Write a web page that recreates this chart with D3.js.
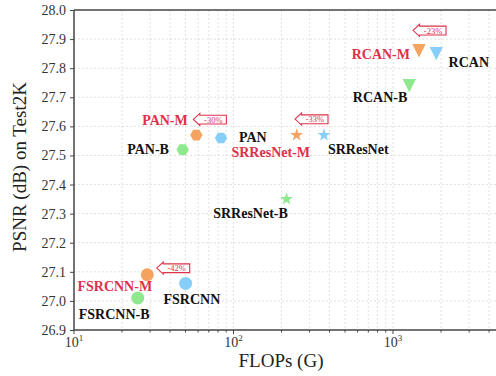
<!DOCTYPE html>
<html>
<head>
<meta charset="utf-8">
<script src="https://cdn.jsdelivr.net/npm/d3@7"></script>
<style>
html,body{margin:0;padding:0;background:#fff;}
svg{display:block;}
text{font-family:"Liberation Serif","Times New Roman",serif;}
</style>
</head>
<body>
<svg id="chart" width="496" height="376"></svg>
<script>
// ---- data ----
const models   = ["FSRCNN-B","FSRCNN-M","FSRCNN","PAN-B","PAN-M","PAN","SRResNet-B","SRResNet-M","SRResNet","RCAN-B","RCAN-M","RCAN"];
const flops    = [25.1, 28.8, 50.1, 48, 58.5, 83.5, 215, 249, 369, 1265, 1455, 1868];
const psnr     = [27.01, 27.09, 27.06, 27.52, 27.57, 27.56, 27.35, 27.57, 27.57, 27.74, 27.86, 27.85];
const variant  = ["B","M","O","B","M","O","B","M","O","B","M","O"];
const shapes   = ["circle","circle","circle","hex","hex","hex","star","star","star","tri","tri","tri"];
const yTicks   = [26.9,27.0,27.1,27.2,27.3,27.4,27.5,27.6,27.7,27.8,27.9,28.0];
const xMajor   = [10, 100, 1000];
const xMajorExp= ["1","2","3"];
// annotation arrows: tip position (data coords) and text
const annText  = ["-42%","-30%","-33%","-23%"];
const annFlops = [33, 56, 243, 1335];
const annPsnr  = [27.113, 27.624, 27.625, 27.93];

// ---- layout / style ----
const colors = {B:"#8ee88e", M:"#f4a460", O:"#87cefa"};
const red = "#e0304a";
const labelOff = {
  "FSRCNN-B":[-59,16,"start"], "FSRCNN-M":[-32.5,11.7,"middle"], "FSRCNN":[6.3,16,"middle"],
  "PAN-B":[-13.7,0,"end"], "PAN-M":[-8.6,-15.3,"end"], "PAN":[18,-0.7,"start"],
  "SRResNet-B":[1.3,14.4,"end"], "SRResNet-M":[13.3,17.4,"end"], "SRResNet":[4,13.7,"start"],
  "RCAN-B":[-2,12,"end"], "RCAN-M":[-9,3,"end"], "RCAN":[12.3,8.6,"start"]
};

const svg = d3.select("#chart");
const L = 74, T = 10, B = 330, R = 504.5;
const x = d3.scaleLog().domain([10, 5000]).range([L, R]);
const y = d3.scaleLinear().domain([26.9, 28.0]).range([B, T]);

// grid
const minor = [];
for (let d = 10; d <= 1000; d *= 10) for (let k = 1; k <= 9; k++) if (d*k <= 5000) minor.push(d*k);
minor.push(2000,3000,4000,5000);
const gx = [...new Set(minor)].filter(v => v > 10 && v < 5000);
svg.append("g").selectAll("line").data(gx).join("line")
  .attr("x1", d => x(d)).attr("x2", d => x(d)).attr("y1", T).attr("y2", B)
  .attr("stroke", "#d9d9d9").attr("stroke-width", 0.8).attr("stroke-dasharray", "2,2");
svg.append("g").selectAll("line").data(yTicks.filter(v => v > 26.9 && v < 28.0)).join("line")
  .attr("x1", L).attr("x2", R).attr("y1", d => y(d)).attr("y2", d => y(d))
  .attr("stroke", "#d9d9d9").attr("stroke-width", 0.8).attr("stroke-dasharray", "2,2");

// axes
const axisColor = "#444";
const yAxis = svg.append("g").attr("transform", `translate(${L},0)`)
  .call(d3.axisLeft(y).tickValues(yTicks).tickFormat(d3.format(".1f")).tickSize(4).tickPadding(4));
yAxis.select(".domain").remove();
yAxis.selectAll("line").attr("stroke", axisColor).attr("stroke-width", 1);
yAxis.selectAll("text").attr("font-size", 14).attr("fill", "#333")
  .attr("font-family", '"Liberation Serif","Times New Roman",serif');

const xAxisG = svg.append("g").attr("transform", `translate(0,${B})`);
xAxisG.selectAll("line.minor").data(gx.filter(v => !xMajor.includes(v))).join("line")
  .attr("x1", d => x(d)).attr("x2", d => x(d)).attr("y1", 0).attr("y2", 2.5)
  .attr("stroke", axisColor).attr("stroke-width", 1);
xAxisG.selectAll("line.major").data(xMajor).join("line")
  .attr("x1", d => x(d)).attr("x2", d => x(d)).attr("y1", 0).attr("y2", 4)
  .attr("stroke", axisColor).attr("stroke-width", 1);
const xl = xAxisG.selectAll("text").data(xMajor).join("text")
  .attr("x", d => x(d)).attr("y", 17).attr("text-anchor", "middle")
  .attr("font-size", 14).attr("fill", "#333");
xl.append("tspan").text("10");
xl.append("tspan").attr("font-size", 9).attr("dy", -6).text((d, i) => xMajorExp[i]);

// spines
svg.append("line").attr("x1", L).attr("x2", L).attr("y1", T).attr("y2", B).attr("stroke", axisColor).attr("stroke-width", 1.5);
svg.append("line").attr("x1", L).attr("x2", 496).attr("y1", B).attr("y2", B).attr("stroke", axisColor).attr("stroke-width", 1.5);
svg.append("line").attr("x1", L).attr("x2", 496).attr("y1", T).attr("y2", T).attr("stroke", axisColor).attr("stroke-width", 1.5);

// axis titles
svg.append("text").attr("x", 281).attr("y", 367).attr("text-anchor", "middle")
  .attr("font-size", 19).attr("fill", "#222").text("FLOPs (G)");
svg.append("text").attr("transform", "translate(26,167) rotate(-90)").attr("text-anchor", "middle")
  .attr("font-size", 19).attr("fill", "#222").text("PSNR (dB) on Test2K");

// markers
function markerPath(shape) {
  const p = d3.path();
  if (shape === "circle") { p.arc(0, 0, 6.5, 0, 2*Math.PI); p.closePath(); return p.toString(); }
  if (shape === "hex") {
    for (let i = 0; i < 6; i++) {
      const a = i * Math.PI / 3;
      const px = 6.2 * Math.cos(a), py = 6.2 * Math.sin(a);
      i ? p.lineTo(px, py) : p.moveTo(px, py);
    }
    p.closePath(); return p.toString();
  }
  if (shape === "tri") { p.moveTo(-6.7,-6.7); p.lineTo(6.7,-6.7); p.lineTo(0,6.7); p.closePath(); return p.toString(); }
  return d3.symbol(d3.symbolStar, 52)();
}
svg.append("g").selectAll("path").data(models).join("path")
  .attr("d", (d, i) => markerPath(shapes[i]))
  .attr("transform", (d, i) => `translate(${x(flops[i])},${y(psnr[i])})`)
  .attr("fill", (d, i) => colors[variant[i]]);

// labels
svg.append("g").selectAll("text").data(models).join("text")
  .attr("x", (d, i) => x(flops[i]) + labelOff[d][0])
  .attr("y", (d, i) => y(psnr[i]) + labelOff[d][1] + 4.8)
  .attr("text-anchor", d => labelOff[d][2])
  .attr("font-size", 14).attr("font-weight", "bold")
  .attr("fill", (d, i) => variant[i] === "M" ? red : "#111")
  .text(d => d);

// annotation arrows
const ann = svg.append("g").selectAll("g").data(annText).join("g")
  .attr("transform", (d, i) => `translate(${x(annFlops[i])},${y(annPsnr[i])})`);
ann.append("path")
  .attr("d", "M0,0 L6.5,-6 L6.5,-4.2 L33,-4.2 L33,4.6 L6.5,4.6 L6.5,6 Z")
  .attr("fill", "#fff").attr("stroke", red).attr("stroke-width", 1.1).attr("stroke-linejoin", "miter");
ann.append("text").attr("x", 20).attr("y", 3.2).attr("text-anchor", "middle")
  .attr("font-size", 8.5).attr("fill", red).text(d => d);
</script>
</body>
</html>
